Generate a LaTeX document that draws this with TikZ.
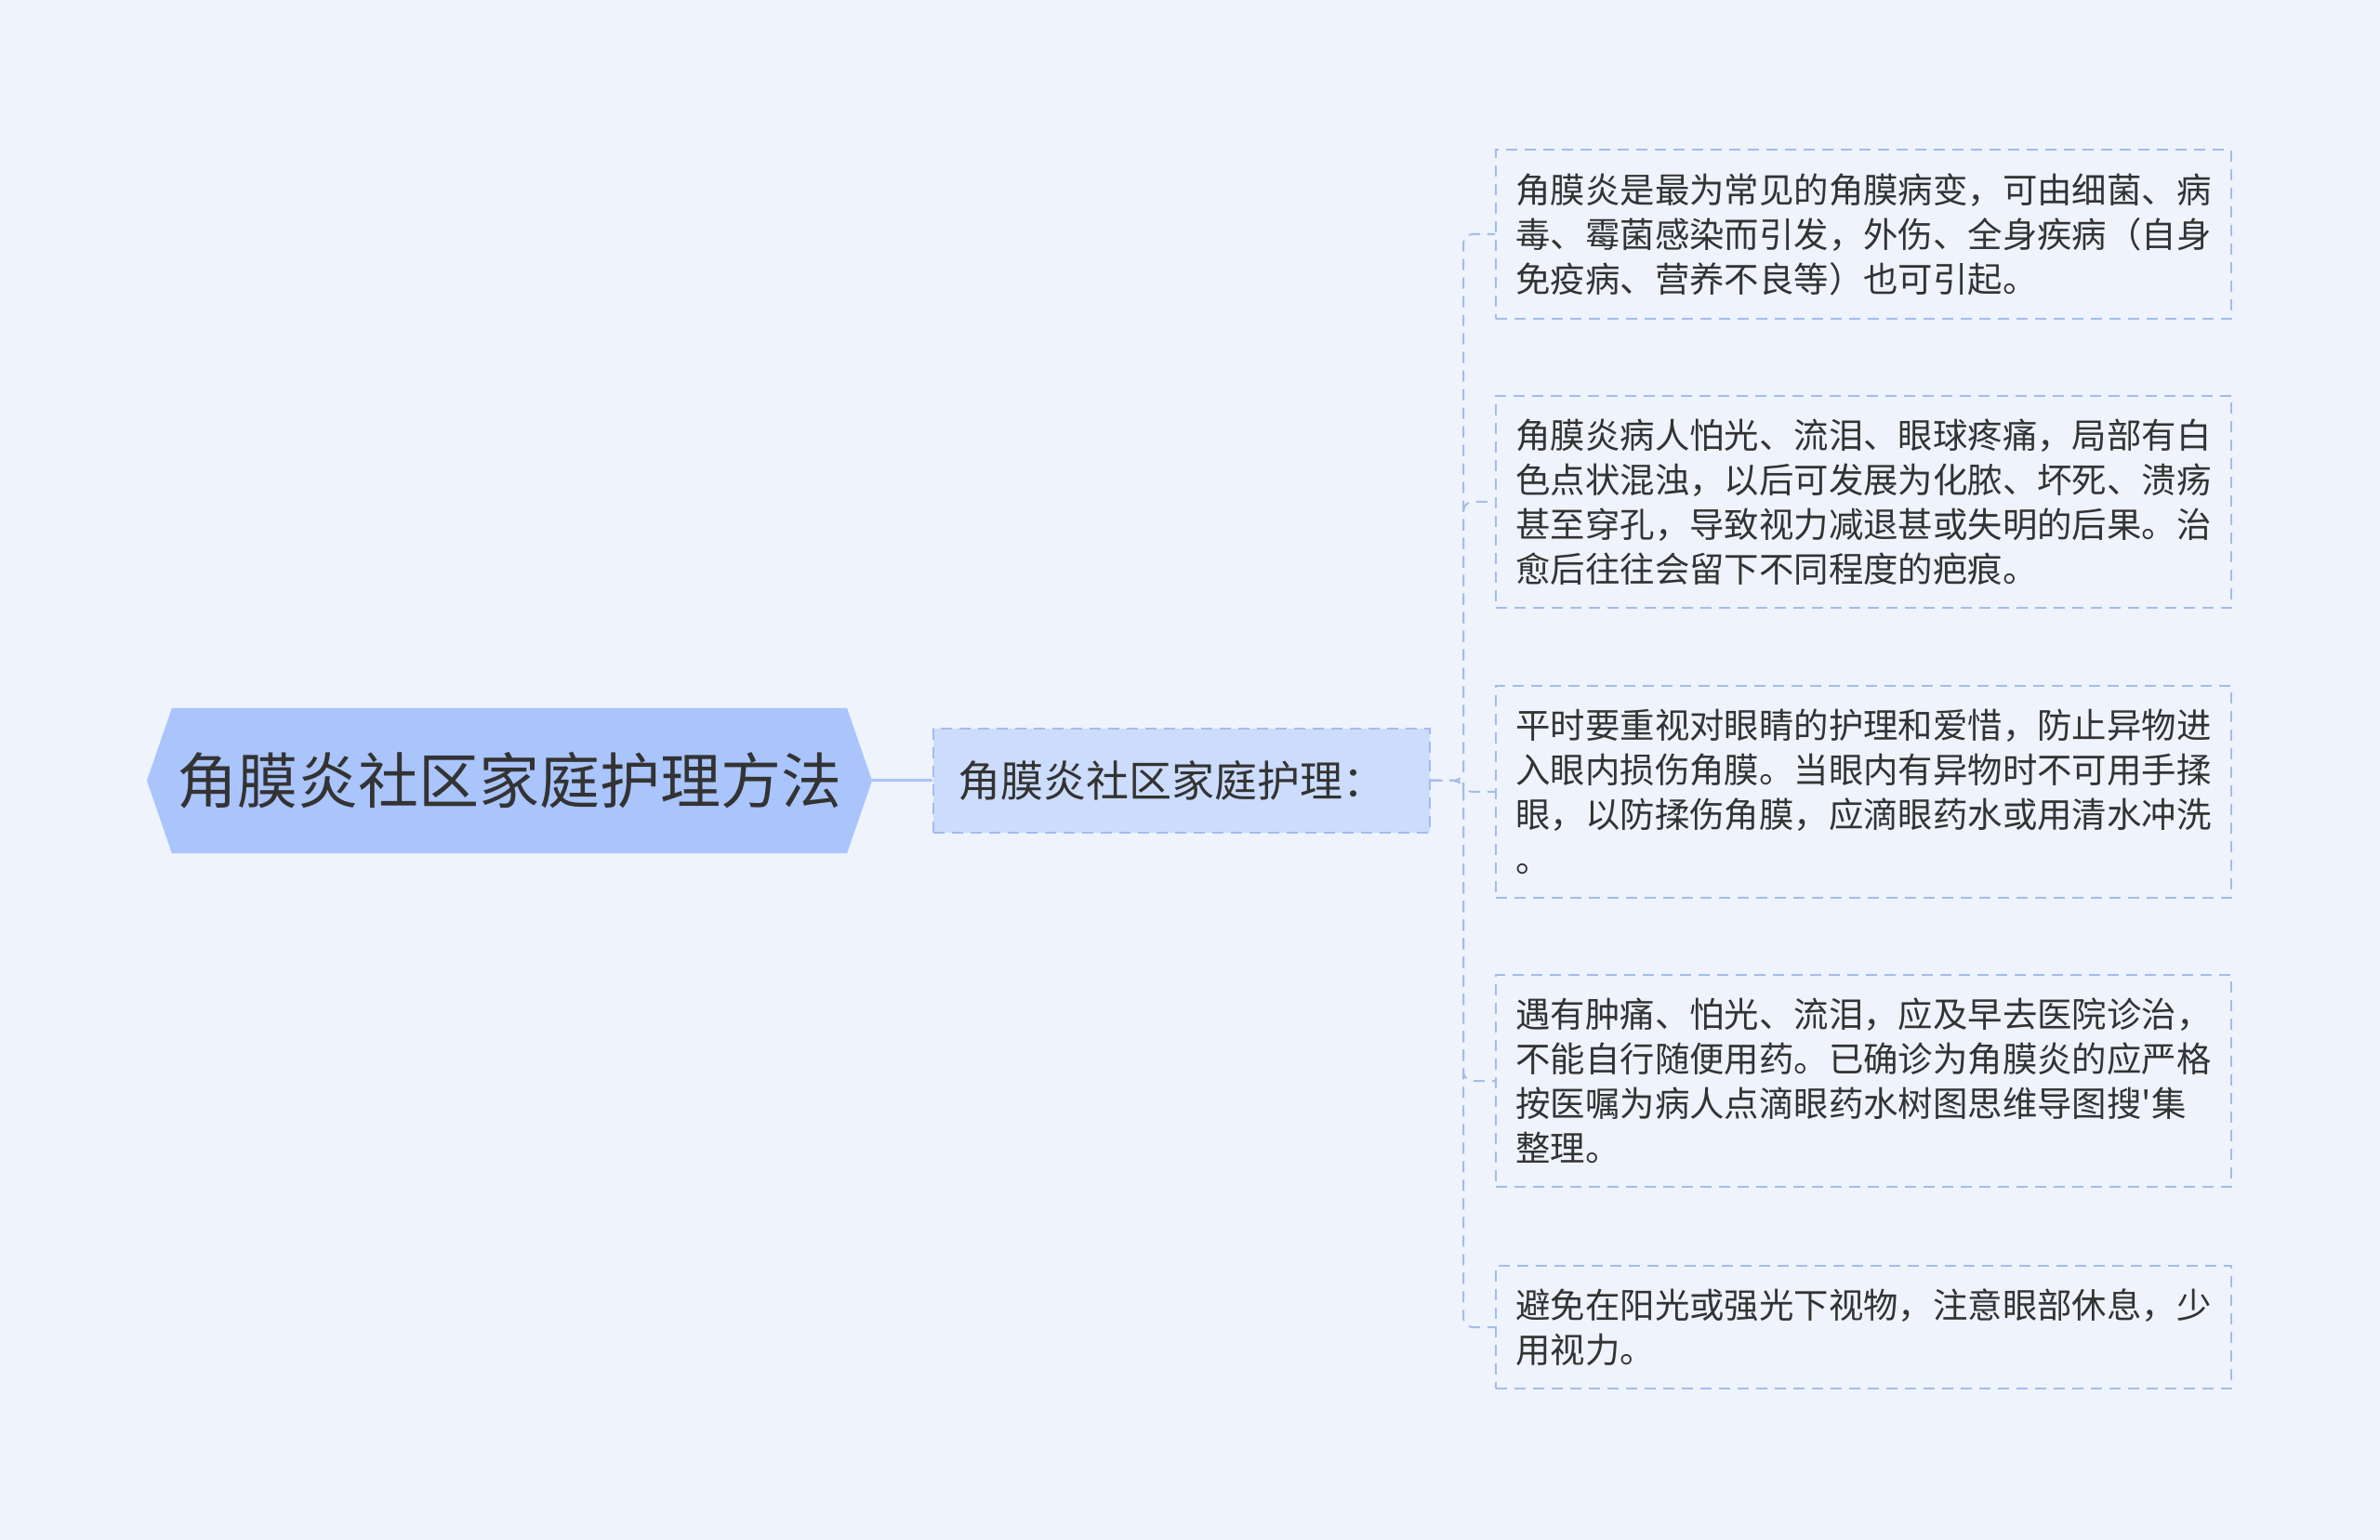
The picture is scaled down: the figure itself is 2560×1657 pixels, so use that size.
\documentclass[tikz,border=0pt]{standalone}
\usepackage{fontspec}
\setmainfont{Noto Sans CJK SC}
\newfontfamily\plaincjk{Noto Sans CJK SC}
\usetikzlibrary{shapes.symbols, positioning}

\definecolor{bgcolor}{RGB}{238,243,252}
\definecolor{rootfill}{RGB}{170,196,252}
\definecolor{subfill}{RGB}{204,220,252}
\definecolor{edgeblue}{RGB}{164,188,236}
\definecolor{textgray}{RGB}{51,51,51}

\begin{document}
\begin{tikzpicture}[x=0.5pt, y=-0.5pt,
        every node/.style={text=textgray},
        rootnode/.style={signal, signal to=west and east, signal pointer angle=142,
            fill=rootfill, minimum width=390pt, minimum height=78pt, inner sep=0pt,
            font=\fontsize{32.5pt}{36pt}\selectfont},
        subnode/.style={draw=edgeblue, fill=subfill, line width=1pt, dash pattern=on 6pt off 4pt,
            text width=241pt, align=left, inner xsep=13pt, minimum height=56pt,
            font=\fontsize{23pt}{28pt}\selectfont},
        leafnode/.style={draw=edgeblue, line width=1pt, dash pattern=on 6pt off 4pt,
            anchor=west, align=left, minimum width=395.5pt, inner xsep=8pt, inner ysep=12.5pt,
            font=\fontsize{18.7pt}{24pt}\selectfont},
        rootlink/.style={draw=rootfill, line width=1.5pt},
        link/.style={draw=edgeblue, line width=1pt, dash pattern=on 6pt off 4pt, rounded corners=5pt}]

    \fill[bgcolor] (0,0) rectangle (2560,1657);

    \node[rootnode] (root) at (548,840) {角膜炎社区家庭护理方法};
    \node[subnode] (sub) at (1271,840) {角膜炎社区家庭护理：};
    \coordinate (fork) at (1574,840);

    \node[leafnode] (leaf1) at (1608,252) {角膜炎是最为常见的角膜病变，可由细菌、病\\毒、霉菌感染而引发，外伤、全身疾病（自身\\免疫病、营养不良等）也可引起。};
    \node[leafnode] (leaf2) at (1608,540) {角膜炎病人怕光、流泪、眼球疼痛，局部有白\\色点状混浊，以后可发展为化脓、坏死、溃疡\\甚至穿孔，导致视力减退甚或失明的后果。治\\愈后往往会留下不同程度的疤痕。};
    \node[leafnode] (leaf3) at (1608,852) {平时要重视对眼睛的护理和爱惜，防止异物进\\入眼内损伤角膜。当眼内有异物时不可用手揉\\眼，以防揉伤角膜，应滴眼药水或用清水冲洗\\。};
    \node[leafnode] (leaf4) at (1608,1163) {遇有肿痛、怕光、流泪，应及早去医院诊治，\\不能自行随便用药。已确诊为角膜炎的应严格\\按医嘱为病人点滴眼药水树图思维导图搜{\plaincjk '}集\\整理。};
    \node[leafnode] (leaf5) at (1608,1428) {避免在阳光或强光下视物，注意眼部休息，少\\用视力。};

    \draw[rootlink] (root.east) -- (sub.west);
    % branches to the notes
    \foreach \n in {1,...,5}
        \draw[link] (sub.east) -- (fork) |- (leaf\n.west);
\end{tikzpicture}
\end{document}
